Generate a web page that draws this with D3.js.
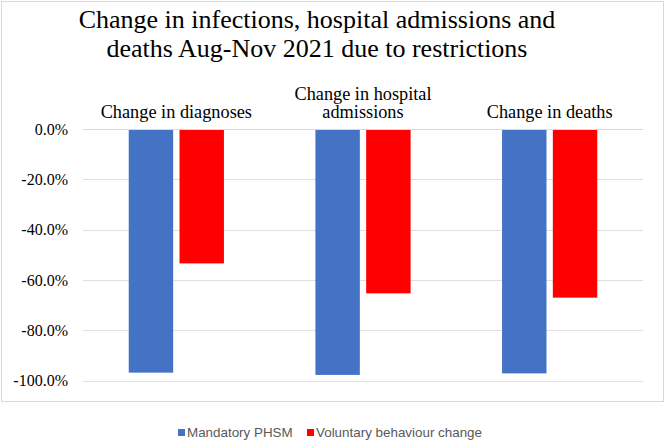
<!DOCTYPE html>
<html>
<head>
<meta charset="utf-8">
<script src="https://cdn.jsdelivr.net/npm/d3@7"></script>
<style>
  body { margin: 0; background: #fff; }
  svg { display: block; }
</style>
</head>
<body>
<div id="chart"></div>
<script>
var categories = [
  ["Change in diagnoses"],
  ["Change in hospital", "admissions"],
  ["Change in deaths"]
];
var seriesNames = ["Mandatory PHSM", "Voluntary behaviour change"];
var mandatory = [-0.968, -0.977, -0.971];
var voluntary = [-0.534, -0.653, -0.670];
var yTicks = [0, -0.2, -0.4, -0.6, -0.8, -1.0];
var titleLines = [
  "Change in infections, hospital admissions and",
  "deaths Aug-Nov 2021 due to restrictions"
];
var colors = ["#4472c4", "#ff0000"];

var width = 665, height = 441;
var margin = {top: 129, right: 22, bottom: 60, left: 83};

var svg = d3.select("#chart").append("svg")
  .attr("width", width)
  .attr("height", height);

// outer chart border
svg.append("rect")
  .attr("x", 1.5).attr("y", 1.5)
  .attr("width", 662).attr("height", 400)
  .attr("fill", "none")
  .attr("stroke", "#d9d9d9");

var x0 = d3.scaleBand()
  .domain(d3.range(categories.length))
  .range([margin.left, width - margin.right]);

var x1 = d3.scaleBand()
  .domain([0, 1])
  .range([x0.bandwidth() * 0.245, x0.bandwidth() * 0.755])
  .paddingInner(0.125);

var y = d3.scaleLinear()
  .domain([-1, 0])
  .range([380.7, margin.top]);

// gridlines
svg.append("g")
  .selectAll("line")
  .data(yTicks.filter(function(d) { return d !== 0; }))
  .enter().append("line")
    .attr("x1", margin.left)
    .attr("x2", width - margin.right)
    .attr("y1", function(d) { return Math.round(y(d)) + 0.5; })
    .attr("y2", function(d) { return Math.round(y(d)) + 0.5; })
    .attr("stroke", "#e0e0e0");

// y tick labels
svg.append("g")
  .selectAll("text")
  .data(yTicks)
  .enter().append("text")
    .attr("x", 68)
    .attr("y", function(d) { return y(d); })
    .attr("dy", "0.35em")
    .attr("text-anchor", "end")
    .attr("font-family", "Liberation Serif, serif")
    .attr("font-size", 16)
    .attr("fill", "#000")
    .text(function(d) { return d3.format(".1%")(d).replace("−", "-"); });

// bars
var rows = categories.map(function(c, i) { return [mandatory[i], voluntary[i]]; });

var group = svg.append("g")
  .selectAll("g")
  .data(rows)
  .enter().append("g")
    .attr("transform", function(d, i) { return "translate(" + x0(i) + ",0)"; });

group.selectAll("rect")
  .data(function(d) { return d; })
  .enter().append("rect")
    .attr("x", function(d, j) { return x1(j); })
    .attr("y", y(0))
    .attr("width", x1.bandwidth())
    .attr("height", function(d) { return y(d) - y(0); })
    .attr("fill", function(d, j) { return colors[j]; });

// zero line
svg.append("line")
  .attr("x1", margin.left)
  .attr("x2", width - margin.right)
  .attr("y1", Math.round(y(0)) + 0.5)
  .attr("y2", Math.round(y(0)) + 0.5)
  .attr("stroke", "#d9d9d9");

// category labels above the zero line
var catLabel = svg.append("g")
  .selectAll("text")
  .data(categories)
  .enter().append("text")
    .attr("text-anchor", "middle")
    .attr("font-family", "Liberation Serif, serif")
    .attr("font-size", 18.3)
    .attr("fill", "#000");

catLabel.selectAll("tspan")
  .data(function(d, i) { return d.map(function(t, k) { return {t: t, k: k, n: d.length, i: i}; }); })
  .enter().append("tspan")
    .attr("x", function(d) { return x0(d.i) + x0.bandwidth() / 2; })
    .attr("y", function(d) { return 118 - (d.n - 1 - d.k) * 18.5; })
    .text(function(d) { return d.t; });

// title
svg.append("g")
  .selectAll("text")
  .data(titleLines)
  .enter().append("text")
    .attr("x", 317)
    .attr("y", function(d, i) { return 28 + i * 29; })
    .attr("text-anchor", "middle")
    .attr("font-family", "Liberation Serif, serif")
    .attr("font-size", 26)
    .attr("fill", "#000")
    .text(function(d) { return d; });

// legend
var legendX = [178, 307];
var legend = svg.append("g")
  .selectAll("g")
  .data(seriesNames)
  .enter().append("g")
    .attr("transform", function(d, i) { return "translate(" + legendX[i] + ",433)"; });

legend.append("rect")
  .attr("x", 0).attr("y", -4)
  .attr("width", 7).attr("height", 7)
  .attr("fill", function(d, i) { return colors[i]; });

legend.append("text")
  .attr("x", 9)
  .attr("dy", "0.33em")
  .attr("font-family", "Liberation Sans, Arial, sans-serif")
  .attr("font-size", 13.4)
  .attr("fill", "#595959")
  .text(function(d) { return d; });
</script>
</body>
</html>
